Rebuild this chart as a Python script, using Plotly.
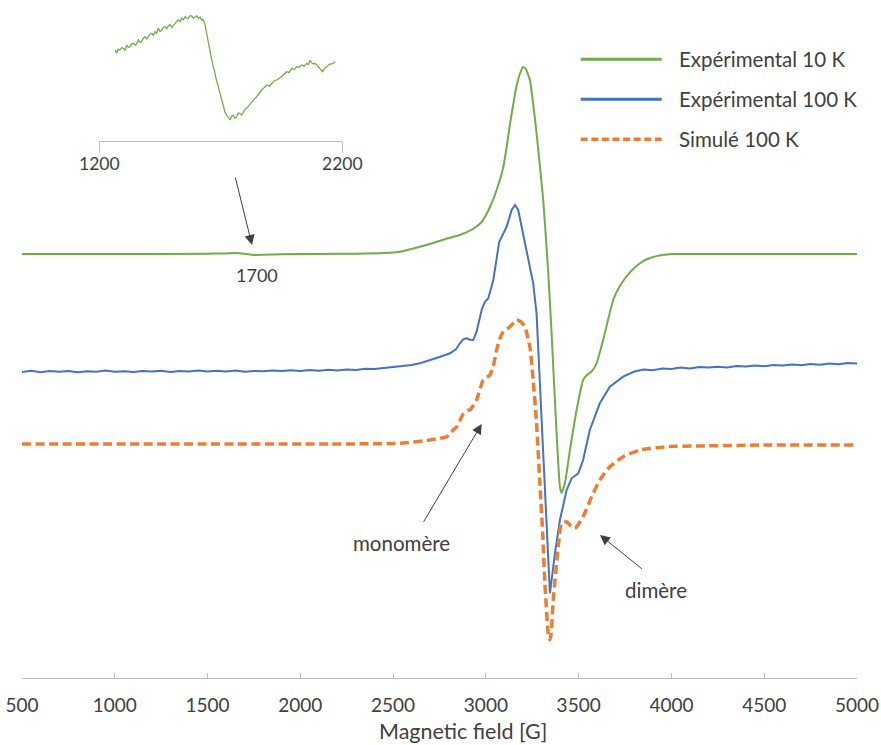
import plotly.graph_objects as go

# ---------------- data ----------------
# Expérimental 10 K (main trace)
green_field = [500, 1000, 1500, 1600, 1650, 1700, 1750, 1800, 1900, 2100,
               2300, 2450, 2537, 2640, 2715, 2800, 2860, 2930, 2977, 3022,
               3067, 3094, 3112, 3129, 3147, 3165, 3183, 3200, 3215, 3237,
               3255, 3273, 3291, 3309, 3336, 3354, 3363, 3381, 3399, 3408,
               3426, 3453, 3489, 3524, 3545, 3560, 3580, 3597, 3632, 3686,
               3722, 3760, 3794, 3840, 3884, 3950, 4007, 4153, 4500, 5000]
green_signal = [424, 424, 424.3, 424.6, 424.9, 424.2, 423.0, 423.3, 423.8, 424,
                424.3, 425, 426.3, 431, 435, 440, 443, 449, 456, 471,
                493, 511, 531, 553, 573, 592, 604, 611, 609, 598,
                574, 545, 512, 478, 405, 345, 311, 245, 191, 185,
                195, 228, 268, 298, 303, 305, 309, 315, 338, 378,
                392, 402, 409, 416, 420, 423, 424, 424, 424, 424]

# Expérimental 100 K
blue_field = [500, 550, 600, 650, 700, 750, 800, 850, 900, 950,
              1000, 1050, 1100, 1150, 1200, 1250, 1300, 1350, 1400, 1450,
              1500, 1550, 1600, 1650, 1700, 1750, 1800, 1850, 1900, 1950,
              2000, 2050, 2100, 2150, 2200, 2250, 2300, 2350, 2400, 2450,
              2500, 2550, 2600, 2650, 2700, 2750,
              2807, 2840, 2860, 2878, 2896, 2915, 2932, 2950, 2977, 2995,
              3013, 3040, 3072, 3085, 3112, 3139, 3157, 3174, 3201, 3228,
              3255, 3273, 3291, 3306, 3327, 3345, 3372, 3399, 3435, 3462,
              3498, 3524, 3560, 3614, 3668, 3740,
              3800, 3850, 3900, 3950, 4000, 4050, 4100, 4150, 4200, 4250,
              4300, 4350, 4400, 4450, 4500, 4550, 4600, 4650, 4700, 4750,
              4800, 4850, 4900, 4950, 5000]
blue_signal = [306.0, 307.2, 305.8, 306.9, 306.3, 307.0, 305.7, 306.8, 306.2, 307.4,
               306.2, 306.7, 305.9, 307.1, 306.4, 307.3, 306.0, 307.0, 306.6, 307.6,
               306.4, 307.2, 306.6, 307.5, 306.3, 307.1, 306.7, 307.6, 306.9, 307.8,
               307.0, 308.0, 307.3, 308.2, 307.6, 308.5, 308.1, 309.2, 308.9, 310.0,
               310.4, 311.8, 312.9, 315.0, 317.8, 321.0,
               324.7, 329.0, 334.7, 338.7, 339.7, 338.3, 338.0, 346.3, 368.0, 376.3,
               379.7, 398.0, 436.3, 441.3, 451.3, 468.0, 473.0, 468.0, 444.7, 418.0,
               394.7, 364.7, 294.0, 232.0, 145.0, 84.7, 124.7, 158.0, 188.0, 199.7,
               204.7, 218.0, 248.0, 274.7, 291.3, 301.3,
               306.5, 308.6, 307.8, 309.6, 309.1, 310.4, 309.6, 311.0, 310.5, 311.3,
               310.6, 312.0, 311.4, 312.5, 311.7, 313.0, 312.6, 313.5, 312.8, 314.0,
               313.3, 314.6, 313.8, 315.0, 314.6]

# Simulé 100 K
orange_field = [500, 1500, 2160, 2537, 2699, 2753, 2789, 2824, 2843, 2878,
                2900, 2914, 2950, 2986, 3022, 3040, 3058, 3076, 3094, 3130,
                3166, 3190, 3210, 3237, 3255, 3273, 3291, 3306, 3318, 3336,
                3345, 3352, 3363, 3390, 3408, 3435, 3458, 3480, 3524, 3570,
                3614, 3668, 3740, 3830, 3974, 4153, 4500, 5000]
orange_signal = [234, 234, 234, 234.7, 238, 239.7, 241.3, 248, 251.3, 264,
                 267.5, 268, 278, 298, 303, 312, 328, 339.7, 346.3, 351.3,
                 358, 356, 351.3, 331.3, 298, 255, 194.7, 144.7, 94.7, 44.7,
                 38, 45, 78, 131.3, 154.7, 156.3, 152, 149.7, 161.3, 181.3,
                 198, 211.3, 221.3, 228, 231.3, 232, 233, 233]

# Inset: zoom of the 10 K trace around 1700 G
inset_field = [1265, 1271, 1278, 1285, 1292, 1299, 1306, 1313, 1320, 1326,
               1333, 1340, 1350, 1361, 1368, 1374, 1381, 1388, 1395, 1402,
               1409, 1416, 1423, 1429, 1436, 1443, 1450, 1457, 1464, 1470,
               1477, 1484, 1491, 1498, 1505, 1512, 1519, 1525, 1532, 1539,
               1546, 1553, 1560, 1566, 1573, 1580, 1587, 1594, 1601, 1608,
               1615, 1621, 1626, 1631, 1635, 1639, 1644, 1649, 1653, 1658,
               1663, 1669, 1674, 1680, 1685, 1690, 1697, 1704, 1709, 1713,
               1718, 1724, 1731, 1738, 1745, 1752, 1758, 1765, 1772, 1779,
               1786, 1793, 1800, 1806, 1813, 1820, 1827, 1834, 1841, 1848,
               1858, 1868, 1878, 1889, 1899, 1909, 1920, 1930, 1940, 1950,
               1960, 1971, 1981, 1992, 2002, 2012, 2022, 2033, 2043, 2053,
               2060, 2067, 2074, 2081, 2088, 2094, 2101, 2108, 2114, 2119,
               2128, 2136, 2143, 2149, 2160, 2170]
inset_signal = [90.7, 87.4, 91.5, 90.7, 93.0, 92.4, 90.5, 95.7, 93.2, 94.0,
                96.8, 97.4, 95.5, 100.7, 98.2, 99.0, 102.5, 104.0, 101.8, 104.0,
                106.5, 107.4, 105.2, 109.0, 107.6, 112.4, 109.5, 110.7, 113.6, 114.0,
                111.8, 114.7, 116.2, 113.4, 116.0, 117.4, 119.5, 120.7, 119.0, 122.4,
                121.0, 124.0, 122.6, 122.4, 125.0, 124.7, 122.5, 123.4, 124.8, 122.4,
                123.6, 120.7, 121.5, 119.0, 116.5, 110.7, 104.0, 97.4, 92.0, 84.0,
                80.5, 74.0, 70.0, 62.4, 59.0, 54.0, 47.0, 40.7, 34.5, 30.7,
                28.0, 25.7, 23.0, 20.7, 24.5, 25.7, 22.5, 24.0, 27.5, 27.4,
                25.8, 29.0, 31.5, 32.4, 34.6, 35.7, 38.9, 40.7, 42.5, 44.0,
                47.5, 50.7, 53.0, 55.7, 54.5, 57.4, 59.8, 60.7, 62.0, 64.0,
                66.5, 69.0, 68.0, 72.4, 71.0, 74.0, 73.2, 75.7, 74.5, 77.4,
                76.0, 80.0, 78.0, 76.7, 77.5, 75.7, 74.0, 72.4, 70.5, 69.0,
                72.5, 74.0, 75.5, 76.7, 77.0, 79.0]

x_ticks = [500, 1000, 1500, 2000, 2500, 3000, 3500, 4000, 4500, 5000]
inset_ticks = [1200, 2200]
series_names = ["Expérimental 10 K", "Expérimental 100 K", "Simulé 100 K"]
series_colors = ["#70AD47", "#4472C4", "#ED7D31"]
x_title = "Magnetic field [G]"

assert len(green_field) == len(green_signal)
assert len(blue_field) == len(blue_signal)
assert len(orange_field) == len(orange_signal)
assert len(inset_field) == len(inset_signal)

# ---------------- layout geometry ----------------
W, H = 881, 745
ML, MR, MT, MB = 22, 24, 0, 67
PW = W - ML - MR
PH = H - MT - MB


def px(x):
    return (x - ML) / PW


def py(y):
    return (H - MB - y) / PH


FONT = "Lato"
TXT = "#404040"
AXC = "#BFBFBF"
ORANGE_DASH = "9px,4.5px"

fig = go.Figure()
fig.add_trace(go.Scatter(x=green_field, y=green_signal, mode="lines", name=series_names[0],
                         line=dict(color=series_colors[0], width=2, shape="spline", smoothing=0.5),
                         showlegend=False))
fig.add_trace(go.Scatter(x=blue_field, y=blue_signal, mode="lines", name=series_names[1],
                         line=dict(color=series_colors[1], width=2),
                         showlegend=False))
fig.add_trace(go.Scatter(x=orange_field, y=orange_signal, mode="lines", name=series_names[2],
                         line=dict(color=series_colors[2], width=3.5, dash=ORANGE_DASH,
                                   shape="spline", smoothing=0.5),
                         showlegend=False))
fig.add_trace(go.Scatter(x=inset_field, y=inset_signal, mode="lines", name="inset",
                         xaxis="x2", yaxis="y2",
                         line=dict(color=series_colors[0], width=1.3),
                         showlegend=False))

annotations = []
shapes = []
# legend (drawn by hand for long line samples)
leg_rows = [59.3, 99.3, 139.3]
for name, col, yy in zip(series_names, series_colors, leg_rows):
    is_sim = "Simul" in name
    shapes.append(dict(type="line", xref="paper", yref="paper",
                       x0=px(580.7), x1=px(661.7), y0=py(yy), y1=py(yy),
                       line=dict(color=col, width=3.5 if is_sim else 3,
                                 dash="7px,3.6px" if is_sim else "solid")))
    annotations.append(dict(text=name, xref="paper", yref="paper", x=px(677.3), y=py(yy),
                            xanchor="left", yanchor="middle", showarrow=False,
                            font=dict(family=FONT, size=20.5, color=TXT)))


def arrow(tail, tip):
    return dict(text="", xref="paper", yref="paper", x=px(tip[0]), y=py(tip[1]),
                ax=tail[0] - tip[0], ay=tail[1] - tip[1], showarrow=True,
                arrowhead=2, arrowsize=2, arrowwidth=1, arrowcolor="#404040",
                standoff=0, startstandoff=0)


annotations.append(arrow((235, 176), (252, 245)))
annotations.append(arrow((422.7, 523.3), (481.7, 424)))
annotations.append(arrow((643.3, 570), (600, 535)))


def label(text, x, y, size):
    return dict(text=text, xref="paper", yref="paper", x=px(x), y=py(y),
                xanchor="center", yanchor="middle", showarrow=False,
                font=dict(family=FONT, size=size, color=TXT))


annotations.append(label("1700", 256.7, 275, 18))
annotations.append(label("monomère", 401, 543, 20.5))
annotations.append(label("dimère", 655.8, 590, 20.5))
annotations.append(label(x_title, 462.6, 731, 21.5))

fig.update_layout(
    width=W, height=H,
    margin=dict(l=ML, r=MR, t=MT, b=MB, pad=0),
    paper_bgcolor="white", plot_bgcolor="white",
    showlegend=False,
    xaxis=dict(range=[500, 5000], tickvals=x_ticks, ticktext=[str(t) for t in x_ticks],
               ticks="inside", ticklen=5, tickcolor=AXC, tickwidth=1,
               showline=True, linecolor=AXC, linewidth=1.2,
               showgrid=False, zeroline=False, ticklabelstandoff=10,
               tickfont=dict(family=FONT, size=19, color=TXT), domain=[0, 1]),
    yaxis=dict(range=[0, PH], visible=False, domain=[0, 1]),
    xaxis2=dict(range=[1200, 2200], tickvals=inset_ticks, ticktext=[str(t) for t in inset_ticks],
                ticks="outside", ticklen=11, tickcolor=AXC, tickwidth=1,
                showline=True, linecolor=AXC, linewidth=1.2,
                showgrid=False, zeroline=False, anchor="y2", ticklabelstandoff=-4,
                tickfont=dict(family=FONT, size=17.5, color=TXT),
                domain=[px(99.3), px(342.3)]),
    yaxis2=dict(range=[0, 130.7], visible=False, anchor="x2",
                domain=[py(140.7), py(10)]),
    annotations=annotations,
    shapes=shapes,
)

fig.write_html("out.html",
               config={"displayModeBar": False, "staticPlot": True},
               post_script="document.body.style.margin='0px';document.body.style.overflow='hidden';")
